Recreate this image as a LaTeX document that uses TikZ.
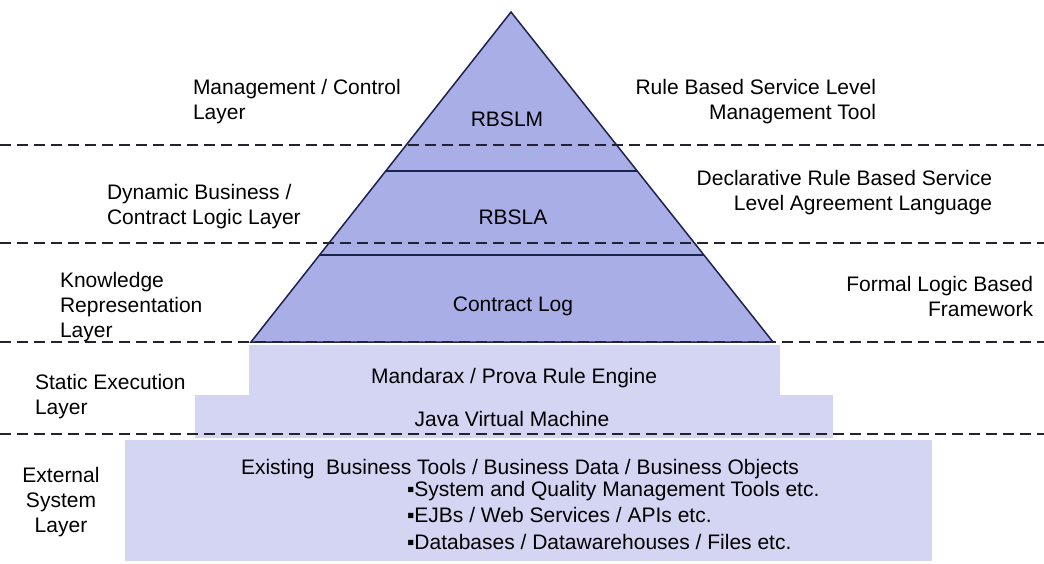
\documentclass[tikz,border=0pt]{standalone}
\usepackage{fontspec}
\setmainfont{Liberation Sans}
\usetikzlibrary{calc}
\definecolor{pyrfill}{RGB}{169,174,230}
\definecolor{basefill}{RGB}{211,213,243}
\definecolor{edgecol}{RGB}{28,34,78}
\definecolor{dashcol}{RGB}{34,34,48}
\begin{document}
\begin{tikzpicture}[x=1pt,y=-1pt,
  txt/.style={font=\fontsize{21}{25}\selectfont, inner sep=0pt, outer sep=0pt, text=black},
  leftlbl/.style={txt, align=left, anchor=base west},
  rightlbl/.style={txt, align=right, anchor=base east},
  midlbl/.style={txt, anchor=base},
  layerbox/.style={fill=basefill, draw=none},
  pyramid/.style={fill=pyrfill, draw=edgecol, line width=1.5pt, line join=miter},
  sepline/.style={draw=edgecol, line width=2pt},
  layerline/.style={draw=dashcol, line width=2pt, dash pattern=on 11pt off 6pt}]
\useasboundingbox (0,0) rectangle (1044,563);

% lower boxes
\path[layerbox] (125,440) rectangle (932,561);
\path[layerbox] (195,395) rectangle (833,438);
\path[layerbox] (249,345) rectangle (780,395);

% pyramid
\coordinate (apex) at (511,12);
\coordinate (bl) at (251,342);
\coordinate (br) at (773,342);
\path[pyramid] (apex) -- (bl) -- (br) -- cycle;
\coordinate (s1l) at ($(apex)!0.4818!(bl)$);
\coordinate (s1r) at ($(apex)!0.4818!(br)$);
\coordinate (s2l) at ($(apex)!0.7364!(bl)$);
\coordinate (s2r) at ($(apex)!0.7364!(br)$);
\draw[sepline] (s1l) -- (s1r);
\draw[sepline] (s2l) -- (s2r);

% dashed layer separators
\coordinate (d1l) at (0,145);   \coordinate (d1r) at (1044,145);
\coordinate (d2l) at (0,243);   \coordinate (d2r) at (1044,243);
\coordinate (d3l) at (0,342);   \coordinate (d3r) at (1044,342);
\coordinate (d4l) at (0,434);   \coordinate (d4r) at (1044,434);
\draw[layerline] (d1l) -- (d1r);
\draw[layerline] (d2l) -- (d2r);
\draw[layerline] (d3l) -- (d3r);
\draw[layerline] (d4l) -- (d4r);

% pyramid texts
\node[midlbl] (rbslm) at (507,126) {RBSLM};
\node[midlbl] (rbsla) at (513,224) {RBSLA};
\node[midlbl] (clog) at (513,311) {Contract Log};
\node[midlbl] (mand) at (514,383) {Mandarax / Prova Rule Engine};
\node[midlbl] (jvm) at (512,426) {Java Virtual Machine};
\node[leftlbl] (exist) at (241,474) {Existing\ \ Business Tools / Business Data / Business Objects};
\node[leftlbl, font=\fontsize{21}{26.5}\selectfont] (bul) at (407,549)
  {▪System and Quality Management Tools etc.\\▪EJBs / Web Services / APIs etc.\\▪Databases / Datawarehouses / Files etc.};

% left labels
\node[leftlbl] (lmgmt) at (193,119) {Management / Control\\Layer};
\node[leftlbl] (ldyn) at (107,224) {Dynamic Business /\\Contract Logic Layer};
\node[leftlbl] (lkr) at (60,337) {Knowledge\\Representation\\Layer};
\node[leftlbl] (lstat) at (35,414) {Static Execution\\Layer};
\node[txt, align=center, anchor=base] (lext) at (61,532) {External\\System\\Layer};

% right labels
\node[rightlbl] (rmgmt) at (876,119) {Rule Based Service Level\\Management Tool};
\node[rightlbl] (rdecl) at (992,210) {Declarative Rule Based Service\\Level Agreement Language};
\node[rightlbl] (rform) at (1033,316) {Formal Logic Based\\Framework};
\end{tikzpicture}
\end{document}
